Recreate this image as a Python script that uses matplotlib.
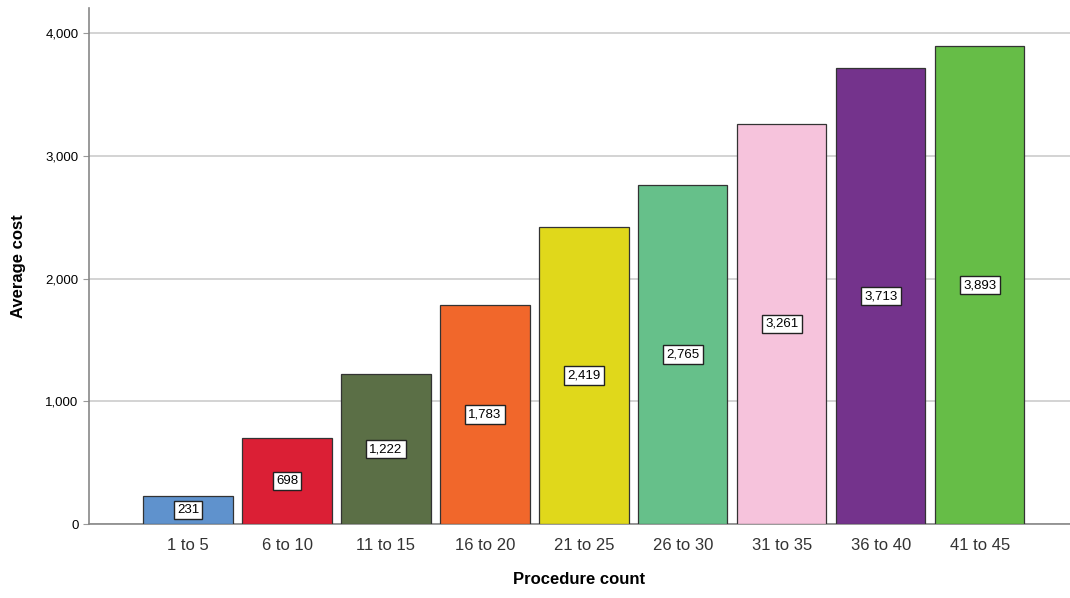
import matplotlib
matplotlib.use("Agg")
import matplotlib.pyplot as plt
from matplotlib.ticker import FuncFormatter

categories = ["1 to 5", "6 to 10", "11 to 15", "16 to 20", "21 to 25",
              "26 to 30", "31 to 35", "36 to 40", "41 to 45"]
avg_cost = [231, 698, 1222, 1783, 2419, 2765, 3261, 3713, 3893]
colors = ["#5f92cd", "#db1f35", "#5b6f46", "#f1672b", "#e0d81b",
          "#66c08a", "#f6c3dc", "#74338c", "#66bd47"]

plt.rcParams["font.family"] = ["Liberation Sans", "DejaVu Sans"]

fig = plt.figure(figsize=(10.7, 5.98), dpi=100)
ax = fig.add_axes([0.0832, 0.1237, 0.9168, 0.8629])

x = list(range(len(categories)))
ax.bar(x, avg_cost, width=0.9, color=colors, edgecolor="#333333",
       linewidth=0.9, zorder=3)

# value labels sit at half the bar height
for xi, v in zip(x, avg_cost):
    ax.text(xi, v / 2, f"{v:,}", ha="center", va="center", fontsize=9.5,
            zorder=4,
            bbox=dict(boxstyle="square,pad=0.25", facecolor="white",
                      edgecolor="#222222", linewidth=1.0))

ax.set_xlim(-1.0, 8.91)
ax.set_ylim(0, 4204)
ax.set_yticks([0, 1000, 2000, 3000, 4000])
ax.yaxis.set_major_formatter(FuncFormatter(lambda v, p: f"{int(v):,}"))
ax.set_xticks(x)
ax.set_xticklabels(categories, fontsize=12, color="#333333")
ax.tick_params(axis="y", labelsize=9.5, length=4, color="#999999")
ax.tick_params(axis="x", length=0, pad=10)

ax.grid(axis="y", color="#cccccc", linewidth=1.2, zorder=0)
for side in ["top", "right"]:
    ax.spines[side].set_visible(False)
for side in ["left", "bottom"]:
    ax.spines[side].set_color("#888888")
    ax.spines[side].set_linewidth(1.2)

ax.set_ylabel("Average cost", fontsize=12, fontweight="bold", labelpad=14)
ax.set_xlabel("Procedure count", fontsize=12, fontweight="bold", labelpad=14)

fig.savefig("out.png", dpi=100)
